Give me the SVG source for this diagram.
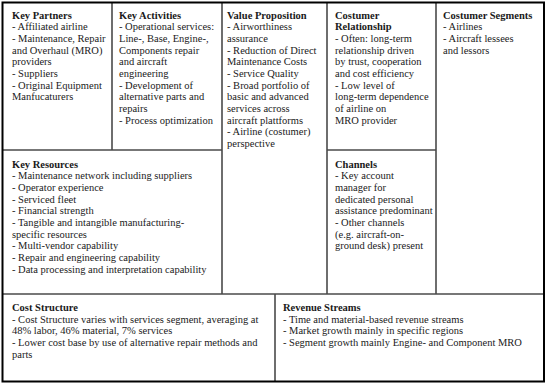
<svg xmlns="http://www.w3.org/2000/svg" width="550" height="388" viewBox="0 0 550 388">
<style>
text{font-family:"Liberation Serif","Times New Roman",serif;font-size:10.5px;fill:#1a1a1a}
.t{font-weight:bold}
.g{stroke:#4a4a4a;stroke-width:1.6;fill:none}
.o{stroke:#000;stroke-width:2;fill:none}
</style>
<rect width="550" height="388" fill="#fff"/>
<g id="grid">
<line class="g" x1="112" y1="3" x2="112" y2="150"/>
<line class="g" x1="222" y1="3" x2="222" y2="294"/>
<line class="g" x1="327" y1="3" x2="327" y2="294"/>
<line class="g" x1="436" y1="3" x2="436" y2="294"/>
<line class="g" x1="3" y1="150" x2="222" y2="150"/>
<line class="g" x1="327" y1="150" x2="436" y2="150"/>
<line class="g" x1="3" y1="294" x2="544" y2="294"/>
<line class="g" x1="275" y1="294" x2="275" y2="382"/>
<rect class="o" x="2.5" y="2.5" width="541.5" height="379"/>
</g>
<g id="key-partners">
<text x="12" y="18.5"><tspan class="t">Key Partners</tspan>
<tspan x="12" dy="11.7">- Affiliated airline</tspan>
<tspan x="12" dy="11.7">- Maintenance, Repair</tspan>
<tspan x="12" dy="11.7">and Overhaul (MRO)</tspan>
<tspan x="12" dy="11.7">providers</tspan>
<tspan x="12" dy="11.7">- Suppliers</tspan>
<tspan x="12" dy="11.7">- Original Equipment</tspan>
<tspan x="12" dy="11.7">Manfucaturers</tspan></text>
</g>
<g id="key-activities">
<text x="119" y="18.5"><tspan class="t">Key Activities</tspan>
<tspan x="119" dy="11.7">- Operational services:</tspan>
<tspan x="119" dy="11.7">Line-, Base, Engine-,</tspan>
<tspan x="119" dy="11.7">Components repair</tspan>
<tspan x="119" dy="11.7">and aircraft</tspan>
<tspan x="119" dy="11.7">engineering</tspan>
<tspan x="119" dy="11.7">- Development of</tspan>
<tspan x="119" dy="11.7">alternative parts and</tspan>
<tspan x="119" dy="11.7">repairs</tspan>
<tspan x="119" dy="11.7">- Process optimization</tspan></text>
</g>
<g id="value-proposition">
<text x="227" y="18.5"><tspan class="t">Value Proposition</tspan>
<tspan x="227" dy="11.7">- Airworthiness</tspan>
<tspan x="227" dy="11.7">assurance</tspan>
<tspan x="227" dy="11.7">- Reduction of Direct</tspan>
<tspan x="227" dy="11.7">Maintenance Costs</tspan>
<tspan x="227" dy="11.7">- Service Quality</tspan>
<tspan x="227" dy="11.7">- Broad portfolio of</tspan>
<tspan x="227" dy="11.7">basic and advanced</tspan>
<tspan x="227" dy="11.7">services across</tspan>
<tspan x="227" dy="11.7">aircraft plattforms</tspan>
<tspan x="227" dy="11.7">- Airline (costumer)</tspan>
<tspan x="227" dy="11.7">perspective</tspan></text>
</g>
<g id="customer-relationship">
<text x="335" y="18.5"><tspan class="t">Costumer</tspan>
<tspan x="335" dy="11.7" class="t">Relationship</tspan>
<tspan x="335" dy="11.7">- Often: long-term</tspan>
<tspan x="335" dy="11.7">relationship driven</tspan>
<tspan x="335" dy="11.7">by trust, cooperation</tspan>
<tspan x="335" dy="11.7">and cost efficiency</tspan>
<tspan x="335" dy="11.7">- Low level of</tspan>
<tspan x="335" dy="11.7">long-term dependence</tspan>
<tspan x="335" dy="11.7">of airline on</tspan>
<tspan x="335" dy="11.7">MRO provider</tspan></text>
</g>
<g id="customer-segments">
<text x="443" y="18.5"><tspan class="t">Costumer Segments</tspan>
<tspan x="443" dy="11.7">- Airlines</tspan>
<tspan x="443" dy="11.7">- Aircraft lessees</tspan>
<tspan x="443" dy="11.7">and lessors</tspan></text>
</g>
<g id="key-resources">
<text x="12" y="167.5"><tspan class="t">Key Resources</tspan>
<tspan x="12" dy="11.7">- Maintenance network including suppliers</tspan>
<tspan x="12" dy="11.7">- Operator experience</tspan>
<tspan x="12" dy="11.7">- Serviced fleet</tspan>
<tspan x="12" dy="11.7">- Financial strength</tspan>
<tspan x="12" dy="11.7">- Tangible and intangible manufacturing-</tspan>
<tspan x="12" dy="11.7">specific resources</tspan>
<tspan x="12" dy="11.7">- Multi-vendor capability</tspan>
<tspan x="12" dy="11.7">- Repair and engineering capability</tspan>
<tspan x="12" dy="11.7">- Data processing and interpretation capability</tspan></text>
</g>
<g id="channels">
<text x="335" y="167.5"><tspan class="t">Channels</tspan>
<tspan x="335" dy="11.7">- Key account</tspan>
<tspan x="335" dy="11.7">manager for</tspan>
<tspan x="335" dy="11.7">dedicated personal</tspan>
<tspan x="335" dy="11.7">assistance predominant</tspan>
<tspan x="335" dy="11.7">- Other channels</tspan>
<tspan x="335" dy="11.7">(e.g. aircraft-on-</tspan>
<tspan x="335" dy="11.7">ground desk) present</tspan></text>
</g>
<g id="cost-structure">
<text x="12" y="311"><tspan class="t">Cost Structure</tspan>
<tspan x="12" dy="11.7">- Cost Structure varies with services segment, averaging at</tspan>
<tspan x="12" dy="11.7">48% labor, 46% material, 7% services</tspan>
<tspan x="12" dy="11.7">- Lower cost base by use of alternative repair methods and</tspan>
<tspan x="12" dy="11.7">parts</tspan></text>
</g>
<g id="revenue-streams">
<text x="283" y="311"><tspan class="t">Revenue Streams</tspan>
<tspan x="283" dy="11.7">- Time and material-based revenue streams</tspan>
<tspan x="283" dy="11.7">- Market growth mainly in specific regions</tspan>
<tspan x="283" dy="11.7">- Segment growth mainly Engine- and Component MRO</tspan></text>
</g>
</svg>
